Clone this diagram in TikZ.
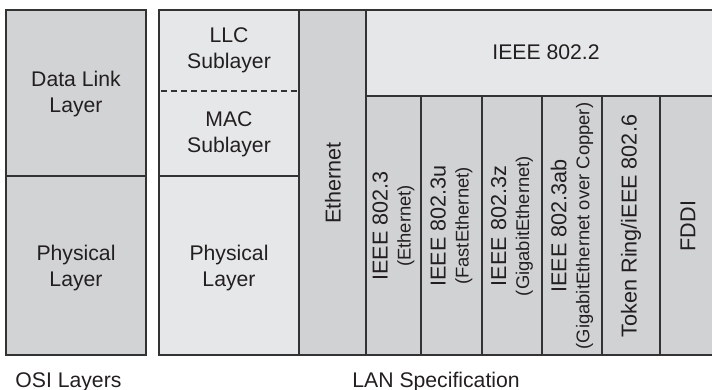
\documentclass[tikz,border=0pt]{standalone}
\usepackage{fontspec}
\setmainfont{Liberation Sans}
\setsansfont{Liberation Sans}
\usetikzlibrary{shapes}

\definecolor{osiGrey}{HTML}{D2D3D5}
\definecolor{lightGrey}{HTML}{E6E7E8}
\definecolor{colGrey}{HTML}{D1D2D4}
\definecolor{lineGrey}{HTML}{333333}
\definecolor{textGrey}{HTML}{231F20}

\begin{document}
\begin{tikzpicture}[x = 0.5pt, y = -0.5pt, font=\sffamily]
	\tikzstyle{osiStyle} = [draw = lineGrey, line width = 1pt, fill = osiGrey]
	\tikzstyle{subStyle} = [draw = lineGrey, line width = 1pt, fill = lightGrey]
	\tikzstyle{colStyle} = [draw = lineGrey, line width = 1pt, fill = colGrey]
	\tikzstyle{labelStyle} = [text = textGrey, align = center, inner sep = 0pt, font = \sffamily\fontsize{10.6}{13}\selectfont]
	\tikzstyle{colLabelStyle} = [labelStyle, rotate = 90, font = \sffamily\fontsize{10.8}{11.5}\selectfont]
	\useasboundingbox (0,0) rectangle (712,390);
	% OSI layers
	\draw[osiStyle] (6,10) rectangle (146,176);
	\draw[osiStyle] (6,176) rectangle (146,355);
	\node[labelStyle] (osiDll) at (76,94) {Data Link\\Layer};
	\node[labelStyle] (osiPhy) at (76,268) {Physical\\Layer};
	% LAN specification
	\draw[subStyle] (159,10) rectangle (299,176);
	\draw[subStyle] (159,176) rectangle (299,355);
	\draw[lineGrey, line width = 1pt, dash pattern = on 3pt off 2pt] (161,91) -- (298,91);
	\node[labelStyle] (llc) at (229,50) {LLC\\Sublayer};
	\node[labelStyle] (mac) at (229,134) {MAC\\Sublayer};
	\node[labelStyle] (lanPhy) at (229,268) {Physical\\Layer};
	\draw[colStyle] (299,10) rectangle (366,355);
	\node[colLabelStyle] (eth) at (333,183) {Ethernet};
	\draw[subStyle] (366,10) rectangle (730,96);
	\node[labelStyle] (ieee8022) at (546,52) {IEEE 802.2};
	\foreach \xa/\xb in {366/421, 421/482, 482/542, 542/602, 602/660, 660/730}
		\draw[colStyle] (\xa,96) rectangle (\xb,355);
	\node[colLabelStyle] (ieee8023) at (393.5,226) {IEEE 802.3\\{\fontsize{9.2}{10}\selectfont (Ethernet)}};
	\node[colLabelStyle] (ieee8023u) at (451.5,226) {IEEE 802.3u\\{\fontsize{9.2}{10}\selectfont (FastEthernet)}};
	\node[colLabelStyle] (ieee8023z) at (512,226) {IEEE 802.3z\\{\fontsize{9.2}{10}\selectfont (GigabitEthernet)}};
	\node[colLabelStyle] (ieee8023ab) at (572,226) {IEEE 802.3ab\\{\fontsize{9.2}{10}\selectfont (GigabitEthernet over Copper)}};
	\node[colLabelStyle] (tokenRing) at (631,226) {Token Ring/iEEE 802.6};
	\node[colLabelStyle] (fddi) at (688,226) {FDDI};
	%\node[labelStyle] (title) at (356,5) {};
	\node[labelStyle, anchor = base west] (osiLbl) at (15,387) {OSI Layers};
	\node[labelStyle, anchor = base west] (lanLbl) at (352,387) {LAN Specification};
\end{tikzpicture}
\end{document}
